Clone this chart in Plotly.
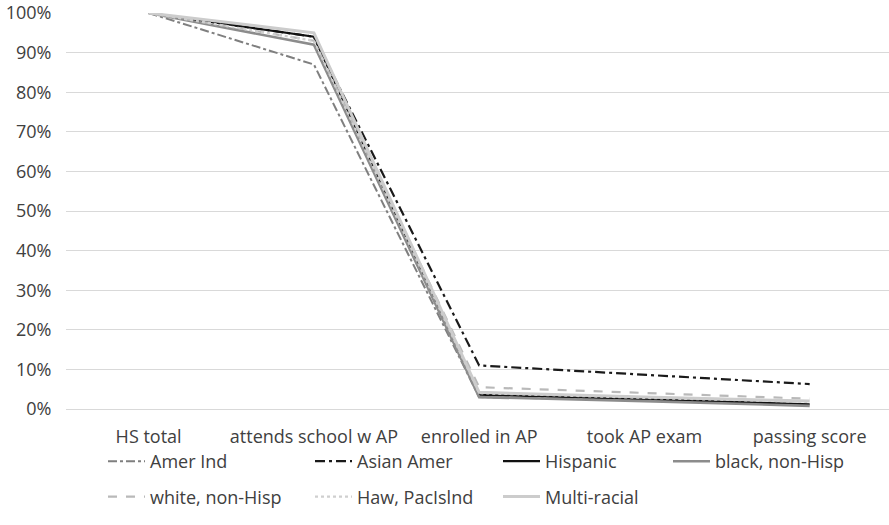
import plotly.graph_objects as go

categories = ["HS total", "attends school w AP", "enrolled in AP", "took AP exam", "passing score"]

amer_ind = [1.00, 0.87, 0.030, 0.022, 0.010]
asian_amer = [1.00, 0.94, 0.110, 0.086, 0.063]
hispanic = [1.00, 0.94, 0.036, 0.025, 0.012]
black_nh = [1.00, 0.92, 0.030, 0.020, 0.008]
white_nh = [1.00, 0.93, 0.055, 0.040, 0.026]
haw_pac = [1.00, 0.93, 0.040, 0.028, 0.018]
multi = [1.00, 0.95, 0.042, 0.030, 0.020]

W, H = 889, 525
# (name, values, color, width, dash, legend id)
series = [
    ("Amer Ind", amer_ind, "#7f7f7f", 2, "dashdot", "legend"),
    ("Asian Amer", asian_amer, "#1a1a1a", 2.2, "10px,4px,3px,4px", "legend2"),
    ("Hispanic", hispanic, "#111111", 2.2, "solid", "legend3"),
    ("black, non-Hisp", black_nh, "#8c8c8c", 2.6, "solid", "legend4"),
    ("white, non-Hisp", white_nh, "#b9b9b9", 2.2, "dash", "legend"),
    ("Haw, PacIslnd", haw_pac, "#cfcfcf", 2.2, "dot", "legend2"),
    ("Multi-racial", multi, "#cccccc", 3, "solid", "legend3"),
]

fig = go.Figure()
for name, vals, color, w, dash, lg in series:
    fig.add_trace(go.Scatter(
        x=categories, y=vals, name=name, mode="lines", legend=lg,
        legendgroup=name,
        line=dict(color=color, width=w, dash=dash),
    ))

font_family = "'Open Sans', sans-serif"
txt = "#404040"
fs = 18


def leg(px):
    return dict(
        orientation="v", xref="container", yref="container",
        x=px / W, y=1 - 443 / H, xanchor="left", yanchor="top",
        font=dict(size=fs, color=txt, family=font_family),
        tracegroupgap=9, itemwidth=37, bgcolor="rgba(0,0,0,0)",
    )


fig.update_layout(
    width=W, height=H,
    margin=dict(l=66, r=0, t=13, b=116, autoexpand=False),
    plot_bgcolor="white", paper_bgcolor="white",
    font=dict(family=font_family, size=fs, color=txt),
    showlegend=True,
    legend=leg(103),
    legend2=leg(310),
    legend3=leg(498),
    legend4=leg(668),
    xaxis=dict(
        type="category", range=[-0.5, 4.48], showgrid=False, showline=False,
        ticks="outside", ticklen=11, tickcolor="rgba(0,0,0,0)",
        tickfont=dict(size=fs, color=txt), automargin=False,
    ),
    yaxis=dict(
        range=[0, 1.0], tickformat=".0%", dtick=0.1,
        showgrid=True, gridcolor="#d9d9d9", gridwidth=1,
        zeroline=True, zerolinecolor="#d9d9d9", zerolinewidth=1,
        showline=False, ticks="outside", ticklen=10, tickcolor="rgba(0,0,0,0)",
        tickfont=dict(size=fs, color=txt), automargin=False,
        ticklabeloverflow="allow",
    ),
)

fig.write_html(
    "out.html",
    config={"displayModeBar": False},
    post_script="document.body.style.margin='0';document.body.style.overflow='hidden';",
)
